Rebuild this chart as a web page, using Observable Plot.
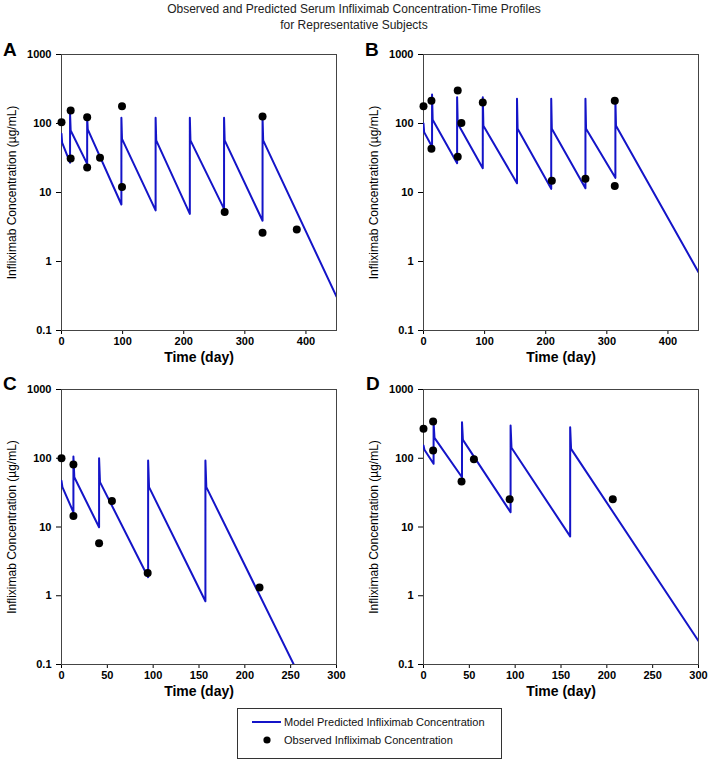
<!DOCTYPE html>
<html><head><meta charset="utf-8">
<script src="https://cdn.jsdelivr.net/npm/d3@7"></script>
<script src="https://cdn.jsdelivr.net/npm/@observablehq/plot@0.6"></script>
<style>
body{margin:0;background:#fff;font-family:"Liberation Sans",Arial,Helvetica,sans-serif;}
#wrap{position:relative;width:708px;height:763px;overflow:hidden;}
.title{position:absolute;left:0;top:1px;width:708px;text-align:center;font-size:12px;line-height:16px;color:#222;}
.panel{position:absolute;}
.letter{position:absolute;font-size:19px;font-weight:bold;line-height:1;color:#000;}
#legend{position:absolute;left:237px;top:708px;width:265px;height:51px;border:1px solid #333;box-sizing:border-box;font-size:11px;color:#111;}
#legend .row{position:absolute;left:0;height:16px;display:flex;align-items:center;}
</style></head><body>
<div id="wrap">
  <div class="title">Observed and Predicted Serum Infliximab Concentration-Time Profiles<br>for Representative Subjects</div>
  <div id="pA" class="panel" style="left:0;top:36px"></div>
  <div id="pB" class="panel" style="left:354px;top:36px"></div>
  <div id="pC" class="panel" style="left:0;top:371px"></div>
  <div id="pD" class="panel" style="left:354px;top:371px"></div>
  <div class="letter" style="left:3px;top:40px">A</div>
  <div class="letter" style="left:365px;top:40px">B</div>
  <div class="letter" style="left:3px;top:374px">C</div>
  <div class="letter" style="left:366px;top:374px">D</div>
  <div id="legend">
    <div class="row" style="top:5px"><svg width="46" height="16"><line x1="14" x2="43" y1="8" y2="8" stroke="#1414c8" stroke-width="2"/></svg><span>Model Predicted Infliximab Concentration</span></div>
    <div class="row" style="top:23px"><svg width="46" height="16"><circle cx="29" cy="8" r="3.6" fill="#000"/></svg><span>Observed Infliximab Concentration</span></div>
  </div>
</div>
<script>
// ---- tick labels ----
const yTicks = [0.1, 1, 10, 100, 1000];
const yTickLabels = ["0.1", "1", "10", "100", "1000"];
const xTicksLong = [0, 100, 200, 300, 400];
const xTicksShort = [0, 50, 100, 150, 200, 250, 300];
const xLabel = "Time (day)";
const yLabel = "Infliximab Concentration (\u00b5g/mL)";

// ---- Panel A ----
const doseDaysA = [0, 14, 42, 98, 154, 210, 266, 329];
const troughA   = [null, 27, 26, 6.7, 5.5, 4.9, 5.8, 3.9];
const peakA     = [71, 140, 123, 121, 121, 121, 121, 121];
const postA     = [53, 79, 82, 60, 57, 57, 57, 57];
const endDayA = 450, endConcA = 0.31;
const obsDayA  = [0, 15, 15, 42, 42, 63, 99, 99, 267, 329, 329, 385];
const obsConcA = [104, 154, 31, 123, 23, 32, 178, 12, 5.2, 126, 2.6, 2.9];

// ---- Panel B ----
const doseDaysB = [0, 14, 55, 97, 153, 209, 265, 314];
const troughB   = [null, 46, 26.6, 22.5, 13.6, 11.3, 11.5, 16.3];
const peakB     = [100, 263, 241, 241, 228, 228, 228, 220];
const postB     = [75, 113, 100, 93, 84, 84, 84, 93];
const endDayB = 450, endConcB = 0.70;
const obsDayB  = [0, 13, 13, 56, 56, 62, 97, 210, 265, 313, 313];
const obsConcB = [178, 213, 43, 301, 33, 102, 201, 14.8, 15.8, 213, 12.4];

// ---- Panel C ----
const doseDaysC = [0, 13, 41, 94.5, 157];
const troughC   = [null, 16.4, 9.9, 1.86, 0.83];
const peakC     = [47, 106, 100, 93, 93];
const postC     = [38, 53, 45, 38, 38];
const endDayC = 253.4, endConcC = 0.1;
const obsDayC  = [0, 13, 13, 41, 55, 94, 216];
const obsConcC = [100, 81, 14.4, 5.8, 23.8, 2.15, 1.32];

// ---- Panel D ----
const doseDaysD = [0, 11, 42, 95, 160];
const troughD   = [null, 83, 53, 16.4, 7.3];
const peakD     = [153, 335, 335, 299, 283];
const postD     = [133, 198, 185, 142, 137];
const endDayD = 300, endConcD = 0.22;
const obsDayD  = [0, 10.5, 10.5, 41.5, 55, 94, 206.5];
const obsConcD = [268, 343, 130, 46, 97, 25.4, 25.4];

function profile(doses, troughs, peaks, posts, endDay, endConc) {
  const rows = [];
  doses.forEach((t, i) => {
    if (troughs[i] != null) rows.push({day: t, conc: troughs[i]});
    rows.push({day: t, conc: peaks[i]});
    rows.push({day: t + 1, conc: posts[i]});
  });
  rows.push({day: endDay, conc: endConc});
  return rows;
}
function observed(days, concs) {
  return days.map((d, i) => ({day: d, conc: concs[i]}));
}

const font = '"Liberation Sans", Arial, Helvetica, sans-serif';

function panel(cfg) {
  return Plot.plot({
    width: 354, height: cfg.height,
    marginTop: 18, marginBottom: 40, marginLeft: cfg.ml, marginRight: cfg.mr,
    style: {fontFamily: font, background: "transparent", overflow: "visible", color: "#000"},
    x: {domain: cfg.xDomain},
    y: {type: "log", domain: [0.1, 1000]},
    marks: [
      Plot.axisY({ticks: yTicks, tickFormat: d => yTickLabels[yTicks.indexOf(d)], tickSize: 5, tickPadding: 5, fontSize: 11, fontWeight: "bold", label: null}),
      Plot.axisX({ticks: cfg.xTicks, tickSize: 4, tickPadding: 3, fontSize: 11, fontWeight: "bold", label: null}),
      Plot.frame({stroke: "#444"}),
      Plot.text([xLabel], {text: d => d, frameAnchor: "bottom", dy: 31, fontSize: 14, fontWeight: "bold"}),
      Plot.text([yLabel], {text: d => d, frameAnchor: "left", textAnchor: "middle", dx: -49, rotate: -90, fontSize: 12}),
      Plot.line(cfg.line, {x: "day", y: "conc", stroke: "#1414c8", strokeWidth: 2, clip: true}),
      Plot.dot(cfg.obs, {x: "day", y: "conc", r: 4, fill: "#000"})
    ]
  });
}

document.getElementById("pA").append(panel({height: 334, ml: 61, mr: 18, xDomain: [0, 450], xTicks: xTicksLong,
  line: profile(doseDaysA, troughA, peakA, postA, endDayA, endConcA), obs: observed(obsDayA, obsConcA)}));
document.getElementById("pB").append(panel({height: 334, ml: 69, mr: 10, xDomain: [0, 450], xTicks: xTicksLong,
  line: profile(doseDaysB, troughB, peakB, postB, endDayB, endConcB), obs: observed(obsDayB, obsConcB)}));
document.getElementById("pC").append(panel({height: 333, ml: 61, mr: 18, xDomain: [0, 300], xTicks: xTicksShort,
  line: profile(doseDaysC, troughC, peakC, postC, endDayC, endConcC), obs: observed(obsDayC, obsConcC)}));
document.getElementById("pD").append(panel({height: 333, ml: 69, mr: 10, xDomain: [0, 300], xTicks: xTicksShort,
  line: profile(doseDaysD, troughD, peakD, postD, endDayD, endConcD), obs: observed(obsDayD, obsConcD)}));
</script>
</body></html>
